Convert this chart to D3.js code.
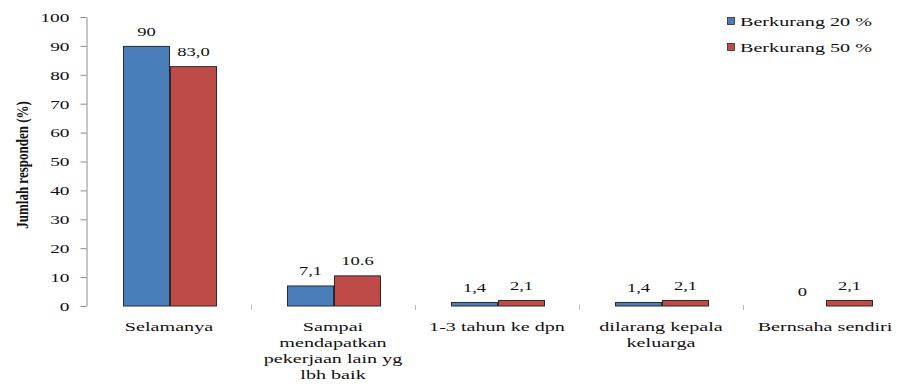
<!DOCTYPE html>
<html>
<head>
<meta charset="utf-8">
<script src="https://cdn.jsdelivr.net/npm/d3@7"></script>
<style>
  html, body { margin: 0; padding: 0; background: #fff; }
  svg { display: block; }
</style>
</head>
<body>
<svg id="chart" width="901" height="390"></svg>
<script>
// Kategori alasan (baris label dipisah per baris)
const categories = [
  ["Selamanya"],
  ["Sampai", "mendapatkan", "pekerjaan lain yg", "lbh baik"],
  ["1-3 tahun ke dpn"],
  ["dilarang kepala", "keluarga"],
  ["Bernsaha sendiri"]
];
const seriesNames = ["Berkurang 20 %", "Berkurang 50 %"];
const valuesA = [90, 7.1, 1.4, 1.4, 0];
const valuesB = [83.0, 10.6, 2.1, 2.1, 2.1];
const labelsA = ["90", "7,1", "1,4", "1,4", "0"];
const labelsB = ["83,0", "10.6", "2,1", "2,1", "2,1"];
const yTicks = [0, 10, 20, 30, 40, 50, 60, 70, 80, 90, 100];
const colors = ["#4a7ebb", "#be4b48"];

const FONT = "'Liberation Serif', 'Times New Roman', 'DejaVu Serif', serif";
const svg = d3.select("#chart");
const SX = 1.55; // horizontal text stretch

const catKeys = categories.map((c, i) => "c" + i);
const x0 = d3.scaleBand().domain(catKeys).range([87, 907]).padding(0);
const x1 = d3.scaleBand().domain([0, 1]).range([36, 130]).padding(0);
const y = d3.scaleLinear().domain([0, 100]).range([306, 17]);

function stretched(sel, x, yy) {
  return sel.attr("x", 0).attr("y", 0)
    .style("font-family", FONT).attr("fill", "#111")
    .attr("transform", `translate(${x},${yy}) scale(${SX},1)`);
}

// Y axis
const yAxis = d3.axisLeft(y).tickValues(yTicks).tickSize(6).tickSizeOuter(0).tickFormat(d3.format("d"));
const gy = svg.append("g").attr("transform", "translate(86.5,0)").call(yAxis);
gy.select(".domain").attr("stroke", "#8c8c8c");
gy.selectAll(".tick line").attr("stroke", "#8c8c8c");
gy.selectAll(".tick text").each(function () {
  d3.select(this)
    .attr("font-size", 12.5).attr("text-anchor", "end").attr("dy", "0.35em")
    .style("font-family", FONT).attr("fill", "#111")
    .attr("x", 0).attr("y", 0)
    .attr("transform", `translate(-17,0) scale(${SX},1)`);
});

// Category separator ticks
svg.append("g").selectAll("line")
  .data(catKeys.slice(1))
  .join("line")
  .attr("x1", d => x0(d) + 0.5).attr("x2", d => x0(d) + 0.5)
  .attr("y1", 305).attr("y2", 310)
  .attr("stroke", "#bbbbbb");

// Bars
const series = [valuesA, valuesB];
const labels = [labelsA, labelsB];
const g = svg.append("g");
catKeys.forEach((k, i) => {
  [0, 1].forEach(s => {
    const v = series[s][i];
    const bx = x0(k) + x1(s);
    if (v > 0) {
      g.append("rect")
        .attr("x", bx + 0.5).attr("y", y(v) + 0.5)
        .attr("width", x1.bandwidth() - 1)
        .attr("height", Math.max(0, y(0) - y(v) - 0.5))
        .attr("fill", colors[s])
        .attr("stroke", "#2a2a2a").attr("stroke-width", 1);
    }
    stretched(g.append("text"), bx + x1.bandwidth() / 2, y(v) - 10)
      .attr("text-anchor", "middle").attr("font-size", 12)
      .text(labels[s][i]);
  });
});

// Category labels
categories.forEach((lines, i) => {
  lines.forEach((ln, j) => {
    stretched(svg.append("text"), x0(catKeys[i]) + x0.bandwidth() / 2, 331 + j * 16)
      .attr("text-anchor", "middle").attr("font-size", 13)
      .text(ln);
  });
});

// Y axis title
svg.append("text")
  .attr("x", 0).attr("y", 0)
  .style("font-family", FONT).attr("fill", "#111")
  .attr("transform", `translate(28,165) rotate(-90) scale(1,1.35)`)
  .attr("text-anchor", "middle")
  .attr("font-size", 13).attr("font-weight", "bold")
  .text("Jumlah responden (%)");

// Legend
seriesNames.forEach((name, s) => {
  const ly = 21 + s * 26;
  svg.append("rect")
    .attr("x", 727.5).attr("y", ly - 3.5)
    .attr("width", 7).attr("height", 7)
    .attr("fill", colors[s]).attr("stroke", "#2a2a2a").attr("stroke-width", 0.8);
  stretched(svg.append("text"), 740, ly + 4.5)
    .attr("font-size", 13).text(name);
});
</script>
</body>
</html>
